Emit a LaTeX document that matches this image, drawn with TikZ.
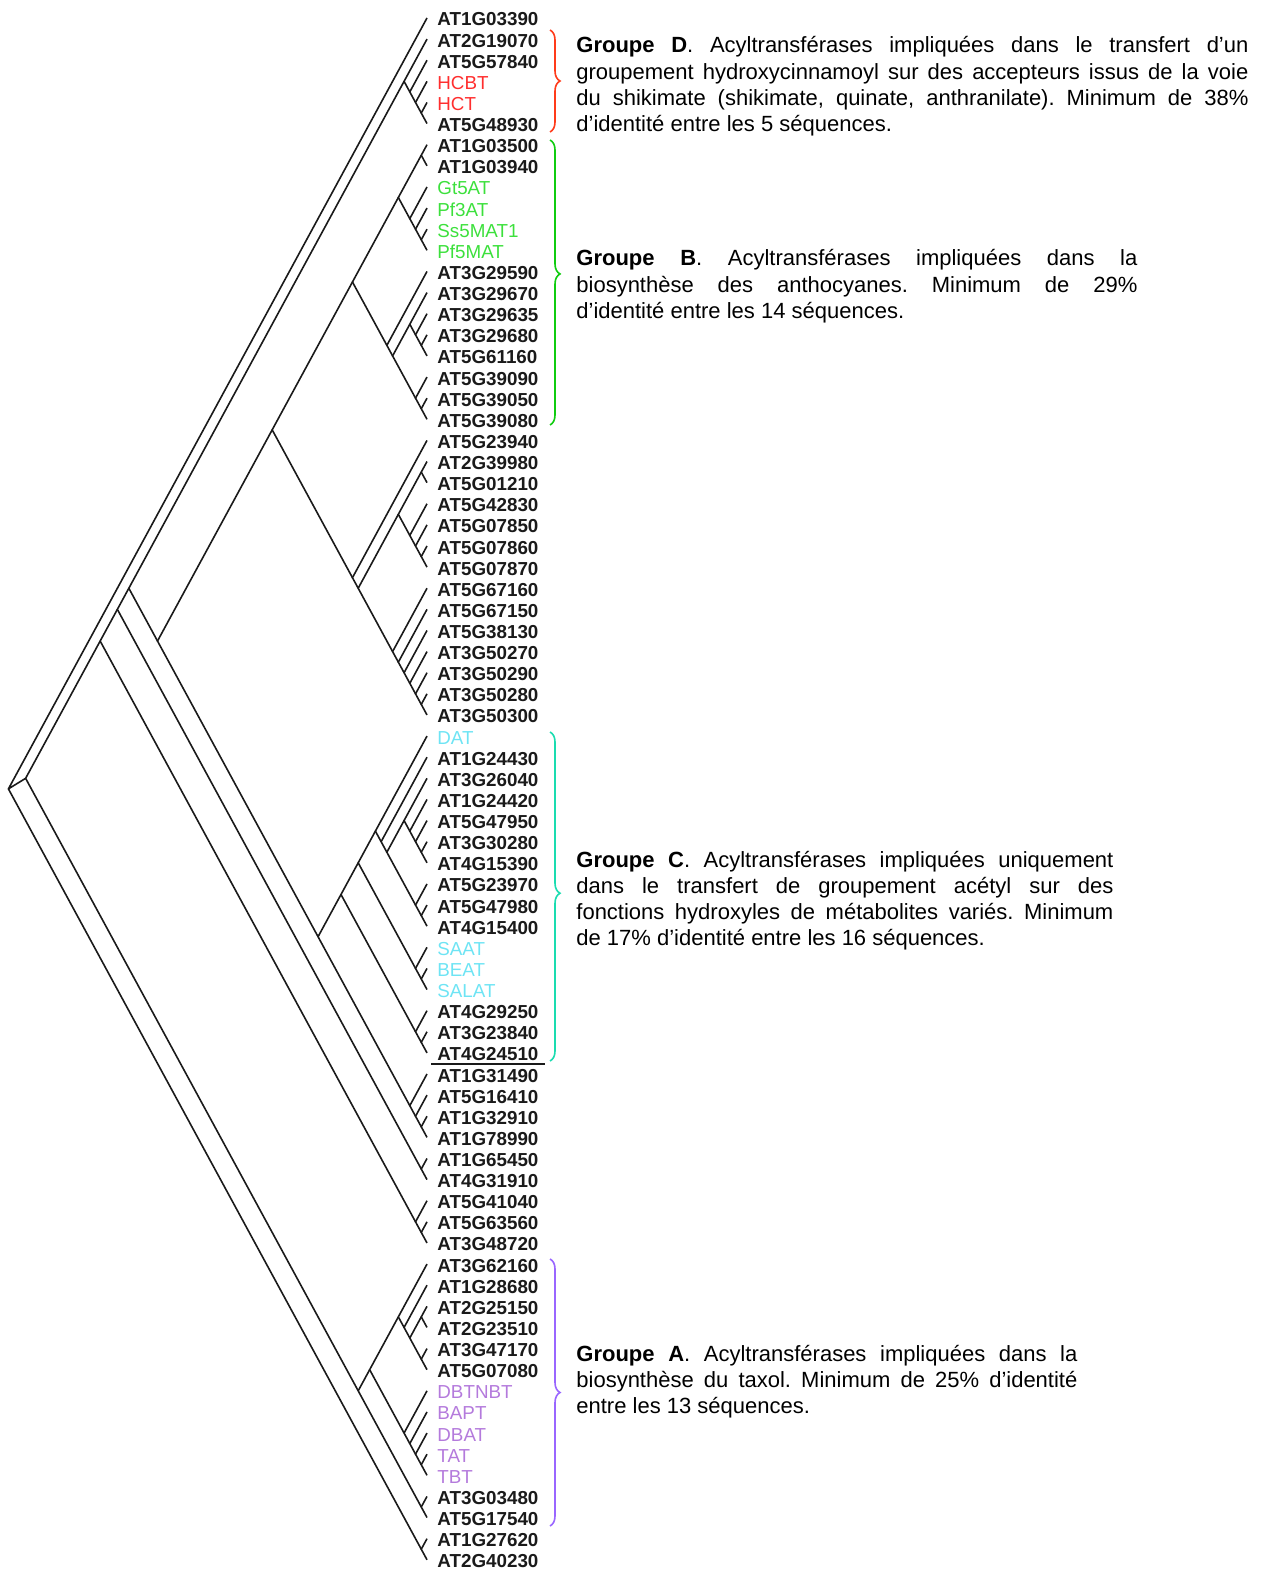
\documentclass[tikz,border=0pt]{standalone}
\usepackage{fontspec}
\setmainfont{Liberation Sans}
\usetikzlibrary{decorations.pathreplacing}
\frenchspacing

\definecolor{ink}{HTML}{1A1A1A}
\definecolor{grpD}{HTML}{FF2E2E}
\definecolor{grpB}{HTML}{3CE03C}
\definecolor{grpC}{HTML}{6EE4F4}
\definecolor{grpA}{HTML}{B47ADC}
\definecolor{brD}{HTML}{FF3B1A}
\definecolor{brB}{HTML}{10CC10}
\definecolor{brC}{HTML}{1ADCB0}
\definecolor{brA}{HTML}{9966FF}

% position of the clade spanning leaves #1..#2 (slanted cladogram)
\newcommand{\setclade}[2]{%
  \pgfmathsetmacro{\cx}{427-5.734*(#2-#1)}%
  \pgfmathsetmacro{\cy}{18+21.12*((#1+#2)/2-1)}%
  \coordinate (c#1-#2) at (\cx,\cy);}

\tikzset{
  branch/.style={line width=0.8pt, ink},
  leaf/.style={anchor=base west, inner sep=0pt, font=\fontsize{9.4}{10}\selectfont\bfseries},
  txt/.style={anchor=base west, inner sep=0pt, font=\fontsize{11}{13}\selectfont},
  grpbrace/.style={decorate, decoration={brace, amplitude=5pt, aspect=#1}, line width=0.8pt},
}

\begin{document}
\begin{tikzpicture}[x=0.5pt,y=-0.5pt]
\useasboundingbox (0,0) rectangle (1267,1572);

% leaves
\foreach \i/\t/\c in {1/AT1G03390/ink, 2/AT2G19070/ink, 3/AT5G57840/ink,
    4/{\mdseries HCBT}/grpD, 5/{\mdseries HCT}/grpD, 6/AT5G48930/ink,
    7/AT1G03500/ink, 8/AT1G03940/ink, 9/{\mdseries Gt5AT}/grpB,
    10/{\mdseries Pf3AT}/grpB, 11/{\mdseries Ss5MAT1}/grpB, 12/{\mdseries Pf5MAT}/grpB,
    13/AT3G29590/ink, 14/AT3G29670/ink, 15/AT3G29635/ink, 16/AT3G29680/ink,
    17/AT5G61160/ink, 18/AT5G39090/ink, 19/AT5G39050/ink, 20/AT5G39080/ink,
    21/AT5G23940/ink, 22/AT2G39980/ink, 23/AT5G01210/ink, 24/AT5G42830/ink,
    25/AT5G07850/ink, 26/AT5G07860/ink, 27/AT5G07870/ink, 28/AT5G67160/ink,
    29/AT5G67150/ink, 30/AT5G38130/ink, 31/AT3G50270/ink, 32/AT3G50290/ink,
    33/AT3G50280/ink, 34/AT3G50300/ink, 35/{\mdseries DAT}/grpC,
    36/AT1G24430/ink, 37/AT3G26040/ink, 38/AT1G24420/ink, 39/AT5G47950/ink,
    40/AT3G30280/ink, 41/AT4G15390/ink, 42/AT5G23970/ink, 43/AT5G47980/ink,
    44/AT4G15400/ink, 45/{\mdseries SAAT}/grpC, 46/{\mdseries BEAT}/grpC,
    47/{\mdseries SALAT}/grpC, 48/AT4G29250/ink, 49/AT3G23840/ink,
    50/AT4G24510/ink, 51/AT1G31490/ink, 52/AT5G16410/ink, 53/AT1G32910/ink,
    54/AT1G78990/ink, 55/AT1G65450/ink, 56/AT4G31910/ink, 57/AT5G41040/ink,
    58/AT5G63560/ink, 59/AT3G48720/ink, 60/AT3G62160/ink, 61/AT1G28680/ink,
    62/AT2G25150/ink, 63/AT2G23510/ink, 64/AT3G47170/ink, 65/AT5G07080/ink,
    66/{\mdseries DBTNBT}/grpA, 67/{\mdseries BAPT}/grpA, 68/{\mdseries DBAT}/grpA,
    69/{\mdseries TAT}/grpA, 70/{\mdseries TBT}/grpA, 71/AT3G03480/ink,
    72/AT5G17540/ink, 73/AT1G27620/ink, 74/AT2G40230/ink}{
  \setclade{\i}{\i}
  \node[leaf, text=\c] (l\i) at ([shift={(10,8)}]c\i-\i) {\t};
}
\draw[ink, line width=0.8pt] ([shift={(-3pt,-1.6pt)}]l50.base west) -- ([shift={(3pt,-1.6pt)}]l50.base east);

% root (three branches)
\setclade{1}{74} \setclade{2}{72} \setclade{73}{74}
\draw[branch] (c1-1) -- (c1-74) -- (c73-74) (c1-74) -- (c2-72);

% clades: first leaf / last leaf of upper child / last leaf
\foreach \a/\m/\b in {2/59/72, 2/56/59, 2/54/56, 2/6/54, 2/2/6, 3/3/6, 4/4/6, 5/5/6,
    7/34/54, 7/20/34, 7/12/20, 7/8/12, 7/7/8, 9/9/12, 10/10/12, 11/11/12,
    13/13/20, 14/17/20, 14/14/17, 15/15/17, 16/16/17, 18/18/20, 19/19/20,
    21/21/34, 22/27/34, 22/23/27, 22/22/23, 24/24/27, 25/25/27, 26/26/27,
    28/28/34, 29/29/34, 30/30/34, 31/31/34, 32/32/34, 33/33/34,
    35/50/54, 35/47/50, 35/44/47, 35/35/44, 36/36/44, 37/41/44, 37/37/41,
    38/38/41, 39/39/41, 40/40/41, 42/42/44, 43/43/44, 45/45/47, 46/46/47,
    48/48/50, 49/49/50, 51/51/54, 52/52/54, 53/53/54, 55/55/56, 57/57/59, 58/58/59,
    60/70/72, 60/65/70, 60/60/65, 61/61/65, 62/63/65, 62/62/63, 64/64/65,
    66/66/70, 67/67/70, 68/68/70, 69/69/70, 71/71/72, 73/73/74}{
  \pgfmathtruncatemacro{\nb}{\m+1}
  \setclade{\a}{\b} \setclade{\a}{\m} \setclade{\nb}{\b}
  \draw[branch] (c\a-\m) -- (c\a-\b) -- (c\nb-\b);
}

% braces
\coordinate (bD1) at (550,30);   \coordinate (bD2) at (550,132);
\coordinate (bB1) at (550,140);  \coordinate (bB2) at (550,425);
\coordinate (bC1) at (550,732);  \coordinate (bC2) at (550,1061);
\coordinate (bA1) at (550,1259); \coordinate (bA2) at (550,1526);
\draw[grpbrace=0.5, brD] (bD1) -- (bD2);
\draw[grpbrace=0.47, brB] (bB1) -- (bB2);
\draw[grpbrace=0.49, brC] (bC1) -- (bC2);
\draw[grpbrace=0.5, brA] (bA1) -- (bA2);

% group texts
\node[txt] (gD1) at (576,53) {\makebox[336pt][s]{\textbf{Groupe D}. Acyltransférases impliquées dans le transfert d’un}};
\node[txt] (gD2) at (576,79.3) {\makebox[336pt][s]{groupement hydroxycinnamoyl sur des accepteurs issus de la voie}};
\node[txt] (gD3) at (576,105.6) {\makebox[336pt][s]{du shikimate (shikimate, quinate, anthranilate). Minimum de 38\%}};
\node[txt] (gD4) at (576,131.9) {d’identité entre les 5 séquences.};

\node[txt] (gB1) at (576,266) {\makebox[280.5pt][s]{\textbf{Groupe B}. Acyltransférases impliquées dans la}};
\node[txt] (gB2) at (576,292.3) {\makebox[280.5pt][s]{biosynthèse des anthocyanes. Minimum de 29\%}};
\node[txt] (gB3) at (576,318.6) {d’identité entre les 14 séquences.};

\node[txt] (gC1) at (576,867) {\makebox[268.5pt][s]{\textbf{Groupe C}. Acyltransférases impliquées uniquement}};
\node[txt] (gC2) at (576,893.3) {\makebox[268.5pt][s]{dans le transfert de groupement acétyl sur des}};
\node[txt] (gC3) at (576,919.6) {\makebox[268.5pt][s]{fonctions hydroxyles de métabolites variés. Minimum}};
\node[txt] (gC4) at (576,945.9) {de 17\% d’identité entre les 16 séquences.};

\node[txt] (gA1) at (576,1361) {\makebox[250.5pt][s]{\textbf{Groupe A}. Acyltransférases impliquées dans la}};
\node[txt] (gA2) at (576,1387.3) {\makebox[250.5pt][s]{biosynthèse du taxol. Minimum de 25\% d’identité}};
\node[txt] (gA3) at (576,1413.6) {entre les 13 séquences.};
\end{tikzpicture}
\end{document}
